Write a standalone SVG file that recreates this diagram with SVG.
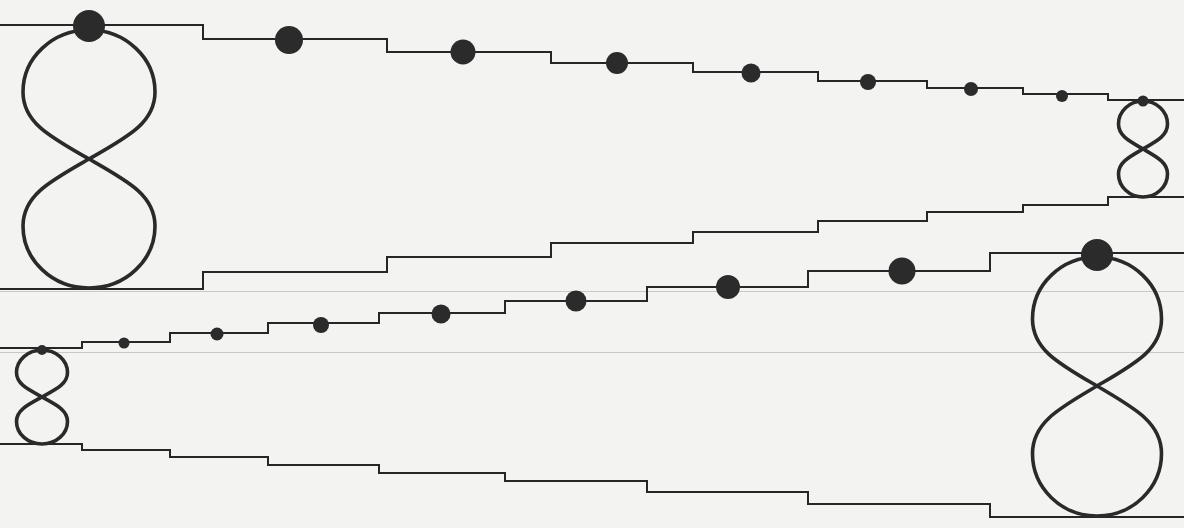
<svg xmlns="http://www.w3.org/2000/svg" width="1184" height="528" viewBox="0 0 1184 528">
<style>
.bg{fill:#f3f3f1}
.step{fill:none;stroke:#262626;stroke-width:2;stroke-linejoin:miter}
.eight{fill:none;stroke:#2a2a2a;stroke-width:3.6}
.dot{fill:#2b2b2b}
.faint{stroke:#c9c9c6;stroke-width:1}
</style>
<rect class="bg" x="0" y="0" width="1184" height="528"/>
<g id="scan-lines">
<line class="faint" x1="0" y1="291.5" x2="1184" y2="291.5"/>
<line class="faint" x1="0" y1="352.5" x2="1184" y2="352.5"/>
</g>
<g id="connectors">
<path class="step" d="M0,25 H203 V39 H387 V52 H551 V63 H693 V72 H818 V81 H927 V88 H1023 V94 H1108 V100 H1184"/>
<path class="step" d="M0,289 H203 V272 H387 V257 H551 V243 H693 V232 H818 V221 H927 V212 H1023 V205 H1108 V197 H1184"/>
<path class="step" d="M0,348 H82 V342 H170 V333 H268 V323 H379 V313 H505 V301 H647 V287 H808 V271 H990 V253 H1184"/>
<path class="step" d="M0,444 H82 V450 H170 V457 H268 V465 H379 V473 H505 V481 H647 V492 H808 V504 H990 V517 H1184"/>
</g>
<g id="eight-left-big">
<path class="eight" d="M89,159 C50.7,137.1 23,122.9 23,91.9 C23,57.7 52.6,30 89,30 C125.4,30 155,57.7 155,91.9 C155,122.9 127.3,137.1 89,159 C50.7,180.9 23,195.1 23,226.1 C23,260.3 52.6,288 89,288 C125.4,288 155,260.3 155,226.1 C155,195.1 127.3,180.9 89,159 Z"/>
</g>
<g id="eight-right-small">
<path class="eight" d="M1143,149 C1128.8,140.8 1118.5,135.6 1118.5,124 C1118.5,111.3 1129.5,101 1143,101 C1156.5,101 1167.5,111.3 1167.5,124 C1167.5,135.6 1157.2,140.8 1143,149 C1128.8,157.2 1118.5,162.4 1118.5,174 C1118.5,186.7 1129.5,197 1143,197 C1156.5,197 1167.5,186.7 1167.5,174 C1167.5,162.4 1157.2,157.2 1143,149 Z"/>
</g>
<g id="eight-right-big">
<path class="eight" d="M1097,386 C1059.6,364.1 1032.5,349.9 1032.5,318.9 C1032.5,284.7 1061.4,257 1097,257 C1132.6,257 1161.5,284.7 1161.5,318.9 C1161.5,349.9 1134.4,364.1 1097,386 C1059.6,408.1 1032.5,422.4 1032.5,453.6 C1032.5,488 1061.4,516 1097,516 C1132.6,516 1161.5,488 1161.5,453.6 C1161.5,422.4 1134.4,408.1 1097,386 Z"/>
</g>
<g id="eight-left-small">
<path class="eight" d="M42,397 C27.2,389 16.5,383.8 16.5,372.6 C16.5,360.1 27.9,350 42,350 C56.1,350 67.5,360.1 67.5,372.6 C67.5,383.8 56.8,389 42,397 C27.2,405 16.5,410.2 16.5,421.4 C16.5,433.9 27.9,444 42,444 C56.1,444 67.5,433.9 67.5,421.4 C67.5,410.2 56.8,405 42,397 Z"/>
</g>
<g id="dots-top">
<circle class="dot" cx="89" cy="26" r="16"/>
<circle class="dot" cx="289" cy="40" r="14"/>
<circle class="dot" cx="463" cy="52" r="12.5"/>
<circle class="dot" cx="617" cy="63" r="11"/>
<circle class="dot" cx="751" cy="73" r="9.5"/>
<circle class="dot" cx="868" cy="82" r="8"/>
<circle class="dot" cx="971" cy="89" r="7"/>
<circle class="dot" cx="1062" cy="96" r="6"/>
<circle class="dot" cx="1143" cy="101" r="5.5"/>
</g>
<g id="dots-bottom">
<circle class="dot" cx="42" cy="350" r="5"/>
<circle class="dot" cx="124" cy="343" r="5.5"/>
<circle class="dot" cx="217" cy="334" r="6.5"/>
<circle class="dot" cx="321" cy="325" r="8"/>
<circle class="dot" cx="441" cy="314" r="9.5"/>
<circle class="dot" cx="576" cy="301" r="10.5"/>
<circle class="dot" cx="728" cy="287" r="12"/>
<circle class="dot" cx="902" cy="271" r="13.5"/>
<circle class="dot" cx="1097" cy="255" r="16"/>
</g>
</svg>
